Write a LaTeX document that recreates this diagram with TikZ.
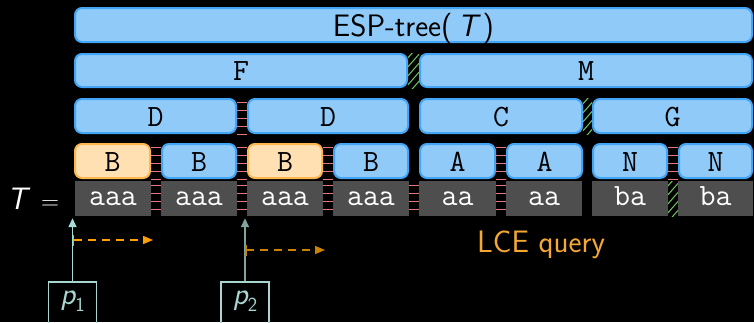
\documentclass[tikz,border=0pt]{standalone}
\usetikzlibrary{arrows.meta}
\definecolor{bfill}{HTML}{90CAF9}
\definecolor{bline}{HTML}{42A5F5}
\definecolor{ofill}{HTML}{FFE0B2}
\definecolor{oline}{HTML}{FFB74D}
\definecolor{tgray}{HTML}{4E4E4E}
\definecolor{redl}{HTML}{E87878}
\definecolor{greenl}{HTML}{6CCB5F}
\definecolor{lceor}{HTML}{F5A733}
\definecolor{dasha}{HTML}{FFA000}
\definecolor{dashb}{HTML}{C98200}
\definecolor{pcola}{HTML}{A8DCD6}
\definecolor{pcolb}{HTML}{7FA39F}
\definecolor{pbord}{HTML}{A8D5CF}
\newcommand{\bx}[7]{\node[#1, minimum width={(#5-#3-#7)*1pt}, minimum height={(#6-#4-#7)*1pt}] (#2) at ({(#3+#5)/2},{(#4+#6)/2})}
\newcommand{\redgap}[4]{\begin{scope}\clip (#1,#2) rectangle (#3,#4);
  \foreach \k in {0,...,4}{\draw[redl, line width=0.8pt] (#1-6,{#2+4+8*\k}) -- (#3+6,{#2+4+8*\k});}\end{scope}}
\newcommand{\greengap}[4]{\begin{scope}\clip (#1,#2) rectangle (#3,#4);
  \foreach \k in {-2,...,7}{\draw[greenl, line width=1pt] (#1-2,{#4+8-9*\k}) -- ++(15,-17);}\end{scope}}
\begin{document}
\begin{tikzpicture}[x=1pt,y=-1pt,
  bigfont/.style={font=\fontsize{31}{36}\selectfont},
  blu/.style={draw=bline, fill=bfill, line width=2pt, rounded corners=7pt, inner sep=0pt,
    font=\fontsize{31}{36}\selectfont\ttfamily, text=black, text height=20pt, text depth=0pt},
  org/.style={blu, draw=oline, fill=ofill},
  txt/.style={fill=tgray, inner sep=0pt, text=white,
    font=\fontsize{31}{36}\selectfont\ttfamily, text height=14pt, text depth=0pt},
  pbox/.style={draw=pbord, line width=1.5pt, inner sep=0pt, text=pbord,
    minimum width=48pt, minimum height=44pt, anchor=north, text height=12pt, text depth=10pt},
  uparrow/.style={line width=1.6pt, -{Triangle[length=9pt,width=8pt]}},
  lcedash/.style={line width=1.5pt, dash pattern=on 8pt off 6pt,
    {Bar[width=11pt,line width=1.5pt]}-{Triangle[length=10pt,width=8pt]}}
]
\fill[black] (0,0) rectangle (754,322);
\useasboundingbox (0,0) rectangle (754,322);
\clip (0,0) rectangle (754,322);

% gap decorations
\greengap{408}{53}{419}{88}
\redgap{237}{98}{247}{134}
\greengap{583}{98}{592}{134}
\redgap{151}{143}{161}{179}
\redgap{237}{143}{247}{179}
\redgap{323}{143}{333}{179}
\redgap{496}{143}{506}{179}
\redgap{668}{143}{678}{179}
\redgap{151}{181}{161}{216}
\redgap{237}{181}{247}{216}
\redgap{323}{181}{333}{216}
\redgap{409}{181}{419}{216}
\redgap{496}{181}{506}{216}
\greengap{668}{181}{678}{216}

% row 1
\bx{blu, font=\fontsize{31}{36}\selectfont\sffamily, text height=22pt}{esp}{74}{7}{753}{43}{2}{ESP-tree(\,{\itshape T}\,)};
% row 2
\bx{blu}{F}{74}{53}{408}{88}{2}{F};
\bx{blu}{M}{419}{53}{753}{88}{2}{M};
% row 3
\bx{blu}{D1}{74}{98}{237}{134}{2}{D};
\bx{blu}{D2}{247}{98}{409}{134}{2}{D};
\bx{blu}{C}{419}{98}{583}{134}{2}{C};
\bx{blu}{G}{592}{98}{753}{134}{2}{G};
% row 4
\bx{org}{B1}{74}{143}{151}{179}{2}{B};
\bx{blu}{B2}{161}{143}{237}{179}{2}{B};
\bx{org}{B3}{247}{143}{323}{179}{2}{B};
\bx{blu}{B4}{333}{143}{409}{179}{2}{B};
\bx{blu}{A1}{419}{143}{496}{179}{2}{A};
\bx{blu}{A2}{506}{143}{583}{179}{2}{A};
\bx{blu}{N1}{592}{143}{668}{179}{2}{N};
\bx{blu}{N2}{678}{143}{753}{179}{2}{N};
% row 5
\bx{txt}{t1}{75}{181}{151}{216}{0}{aaa};
\bx{txt}{t2}{161}{181}{237}{216}{0}{aaa};
\bx{txt}{t3}{247}{181}{323}{216}{0}{aaa};
\bx{txt}{t4}{333}{181}{409}{216}{0}{aaa};
\bx{txt}{t5}{419}{181}{496}{216}{0}{aa};
\bx{txt}{t6}{506}{181}{582}{216}{0}{aa};
\bx{txt}{t7}{592}{181}{668}{216}{0}{ba};
\bx{txt}{t8}{678}{181}{753}{216}{0}{ba};

% T =
\node[bigfont, text=white, anchor=base west, inner sep=0pt] (teq) at (7,209) {\sffamily\itshape T\hspace{14pt}\upshape$=$};

% LCE query
\node[bigfont, text=lceor, anchor=base west, inner sep=0pt] (lce) at (477,252) {\sffamily LCE query};

% position boxes
\node[pbox] (p1) at (72.5,281) {\fontsize{31}{36}\selectfont\sffamily\itshape p\upshape\raisebox{-7pt}{\fontsize{20}{20}\selectfont 1}};
\node[pbox] (p2) at (245,281) {\fontsize{31}{36}\selectfont\sffamily\itshape p\upshape\raisebox{-7pt}{\fontsize{20}{20}\selectfont 2}};

\coordinate (a1) at (p1.north |- t1.south);
\coordinate (a2) at (p2.north |- t3.south);
\draw[uparrow, pcola] (p1.north) -- ([yshift=-2pt]a1);
\draw[uparrow, pcolb] (p2.north) -- ([yshift=-2pt]a2);

\coordinate (d1s) at (72.5,240);
\coordinate (d1e) at (153,240);
\coordinate (d2s) at (245,250);
\coordinate (d2e) at (325,250);
\draw[lcedash, dasha] (d1s) -- (d1e);
\draw[lcedash, dashb] (d2s) -- (d2e);
\end{tikzpicture}
\end{document}
